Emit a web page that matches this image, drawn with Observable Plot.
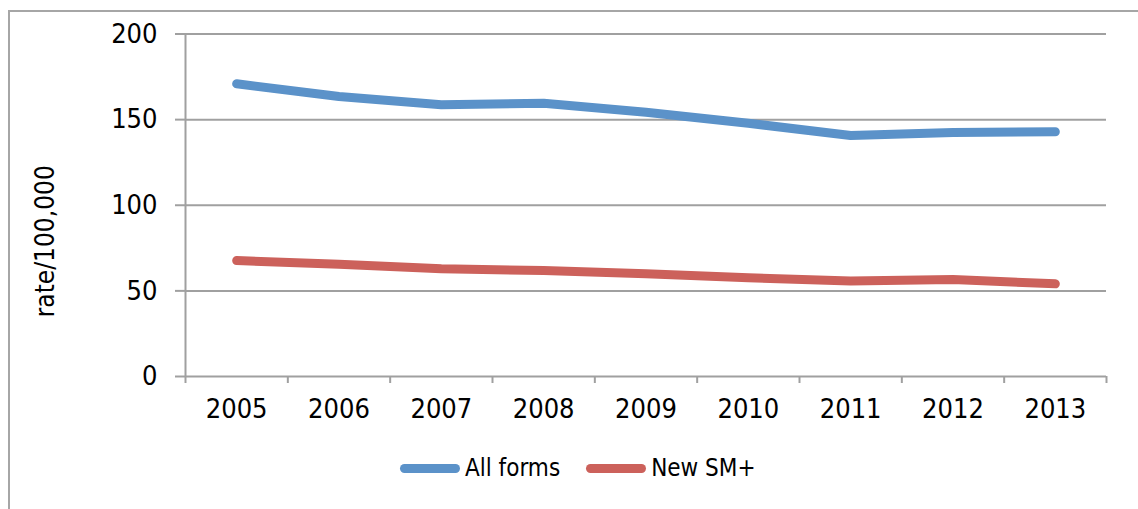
<!DOCTYPE html>
<html><head><meta charset="utf-8">
<script src="https://cdn.jsdelivr.net/npm/d3@7"></script>
<script src="https://cdn.jsdelivr.net/npm/@observablehq/plot@0.6"></script>
<style>
body{margin:0;background:#fff;width:1138px;height:509px;overflow:hidden;position:relative;font-family:"DejaVu Sans Condensed","DejaVu Sans",sans-serif}
#frame{position:absolute;left:8px;top:10px;width:1200px;height:600px;border-left:2px solid #a6a6a6;border-top:2px solid #a6a6a6}
#chart{position:absolute;left:0;top:0}
#legend{position:absolute;left:400px;top:452px;height:32px;display:flex;align-items:center;font-size:24px;color:#000}
.item{display:flex;align-items:center;margin-right:26px}
.sw{display:inline-block;width:60px;height:9px;border-radius:5px;margin-right:5px}
</style></head><body>
<div id="frame"></div>
<div id="chart"></div>
<div id="legend"></div>
<script>
const years = [2005, 2006, 2007, 2008, 2009, 2010, 2011, 2012, 2013];
const allForms = [170.9, 163.5, 158.7, 159.6, 154.3, 147.9, 140.7, 142.5, 142.9];
const newSM = [67.7, 65.6, 62.9, 61.9, 60.0, 57.6, 55.7, 56.6, 54.1];
const seriesNames = ["All forms", "New SM+"];
const seriesColors = ["#5B92C9", "#CC615B"];
const yTicks = [0, 50, 100, 150, 200];
const yLabel = "rate/100,000";

const data = [
  ...years.map((year, i) => ({year, value: allForms[i], series: seriesNames[0]})),
  ...years.map((year, i) => ({year, value: newSM[i], series: seriesNames[1]}))
];
const bounds = [years[0] - 0.5, ...years.map(y => y + 0.5)];
const grey = "#a0a0a0";
const font = "'DejaVu Sans Condensed','DejaVu Sans',sans-serif";

const plot = Plot.plot({
  width: 1138, height: 440,
  marginLeft: 185, marginRight: 32, marginTop: 33.5, marginBottom: 64,
  style: {fontFamily: font, fontSize: "27px", color: "#000", background: "transparent", overflow: "visible"},
  x: {type: "linear", domain: [bounds[0], bounds[bounds.length - 1]]},
  y: {domain: [0, 200]},
  color: {domain: seriesNames, range: seriesColors},
  marks: [
    Plot.gridY(yTicks, {stroke: grey, strokeOpacity: 1, strokeWidth: 2}),
    Plot.ruleX([bounds[0]], {stroke: grey, strokeWidth: 2}),
    Plot.axisY({ticks: yTicks, tickSize: 10, tickPadding: 18, stroke: grey, strokeWidth: 2, fill: "#000", label: null}),
    Plot.axisX({ticks: bounds, tickSize: 7, tickFormat: () => "", stroke: grey, strokeWidth: 2, label: null}),
    Plot.axisX({ticks: years, tickSize: 0, tickPadding: 22, tickFormat: d => String(d), fill: "#000", label: null}),
    Plot.line(data, {x: "year", y: "value", stroke: "series", strokeWidth: 9, strokeLinecap: "round", strokeLinejoin: "round"}),
    Plot.text([yLabel], {text: d => d, frameAnchor: "left", textAnchor: "middle", lineAnchor: "middle", rotate: -90, dx: -139.5, dy: 36, fontSize: 26, fill: "#000"})
  ]
});
document.getElementById("chart").appendChild(plot);

const legend = document.getElementById("legend");
seriesNames.forEach((name, i) => {
  const item = document.createElement("div");
  item.className = "item";
  const sw = document.createElement("span");
  sw.className = "sw";
  sw.style.background = seriesColors[i];
  const t = document.createElement("span");
  t.textContent = name;
  item.appendChild(sw);
  item.appendChild(t);
  legend.appendChild(item);
});
</script>
</body></html>
